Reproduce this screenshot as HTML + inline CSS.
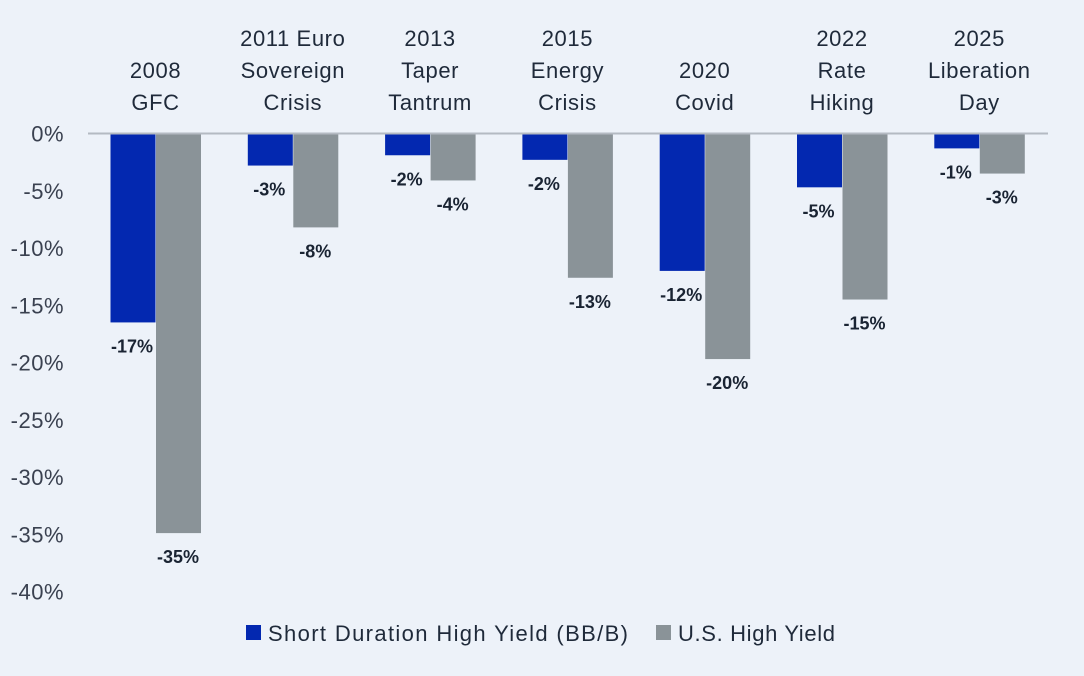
<!DOCTYPE html>
<html><head><meta charset="utf-8"><style>
html,body{margin:0;padding:0;background:#edf2f9;}
svg{display:block;font-family:"Liberation Sans",sans-serif;}
</style></head><body>
<svg id="chart" width="1084" height="676"></svg>
<script>
const categories=[["2008","GFC"],["2011 Euro","Sovereign","Crisis"],["2013","Taper","Tantrum"],["2015","Energy","Crisis"],["2020","Covid"],["2022","Rate","Hiking"],["2025","Liberation","Day"]];
const shortDuration=[-16.5,-2.8,-1.9,-2.3,-12,-4.7,-1.3];
const usHighYield=[-34.9,-8.2,-4.1,-12.6,-19.7,-14.5,-3.5];
const shortLabels=["-17%","-3%","-2%","-2%","-12%","-5%","-1%"];
const usLabels=["-35%","-8%","-4%","-13%","-20%","-15%","-3%"];
const yTicks=[0,-5,-10,-15,-20,-25,-30,-35,-40];

const NS="http://www.w3.org/2000/svg";
const svg=document.getElementById('chart');
const y0=133.5, pxPer=11.45;
const yScale=v=>y0-v*pxPer;
const groupX=i=>155.5+i*137.3;
const barW=45;
function mk(tag,attrs,txt){const e=document.createElementNS(NS,tag);for(const k in attrs)e.setAttribute(k,attrs[k]);if(txt!=null)e.textContent=txt;svg.appendChild(e);return e;}

yTicks.forEach(t=>{
  const e=mk('text',{x:64,y:yScale(t)+8,'text-anchor':'end','font-size':22,fill:'#3a4150','letter-spacing':0.5},t+'%');
  
  
});
categories.forEach((c,i)=>{
  const n=c.length;
  c.forEach((line,j)=>{
    const e=mk('text',{x:groupX(i),y:110-(n-1-j)*32,'text-anchor':'middle','font-size':22,fill:'#1f2a3a','letter-spacing':0.6},line);
    
    
  });
});
categories.forEach((c,i)=>{
  const cx=groupX(i);
  const b1=mk('rect',{x:cx-barW,y:y0,width:barW,height:yScale(shortDuration[i])-y0,fill:'#0328b0'});
  
  
  const b2=mk('rect',{x:cx+0.5,y:y0,width:barW,height:yScale(usHighYield[i])-y0,fill:'#8a9398'});
  
  
  const l1=mk('text',{x:cx-barW/2-1,y:yScale(shortDuration[i])+30,'text-anchor':'middle','font-size':18,'font-weight':'bold',fill:'#1a2433'},shortLabels[i]);
  
  
  const l2=mk('text',{x:cx+barW/2,y:yScale(usHighYield[i])+30,'text-anchor':'middle','font-size':18,'font-weight':'bold',fill:'#1a2433'},usLabels[i]);
  
  
});
const ax=mk('line',{x1:88,x2:1048,y1:y0,y2:y0,stroke:'#b4bac2','stroke-width':2});


</script>
<svg style="position:absolute;left:0;top:0" width="1084" height="676">
  <rect x="246" y="625" width="15" height="15" fill="#0328b0"/>
  <text x="268" y="641" font-family="Liberation Sans, sans-serif" font-size="22" fill="#1f2a3a" textLength="360" lengthAdjust="spacing">Short Duration High Yield (BB/B)</text>
  <rect x="656" y="625" width="15" height="15" fill="#8a9398"/>
  <text x="678" y="641" font-family="Liberation Sans, sans-serif" font-size="22" fill="#1f2a3a" textLength="157" lengthAdjust="spacing">U.S. High Yield</text>
</svg>
</body></html>
